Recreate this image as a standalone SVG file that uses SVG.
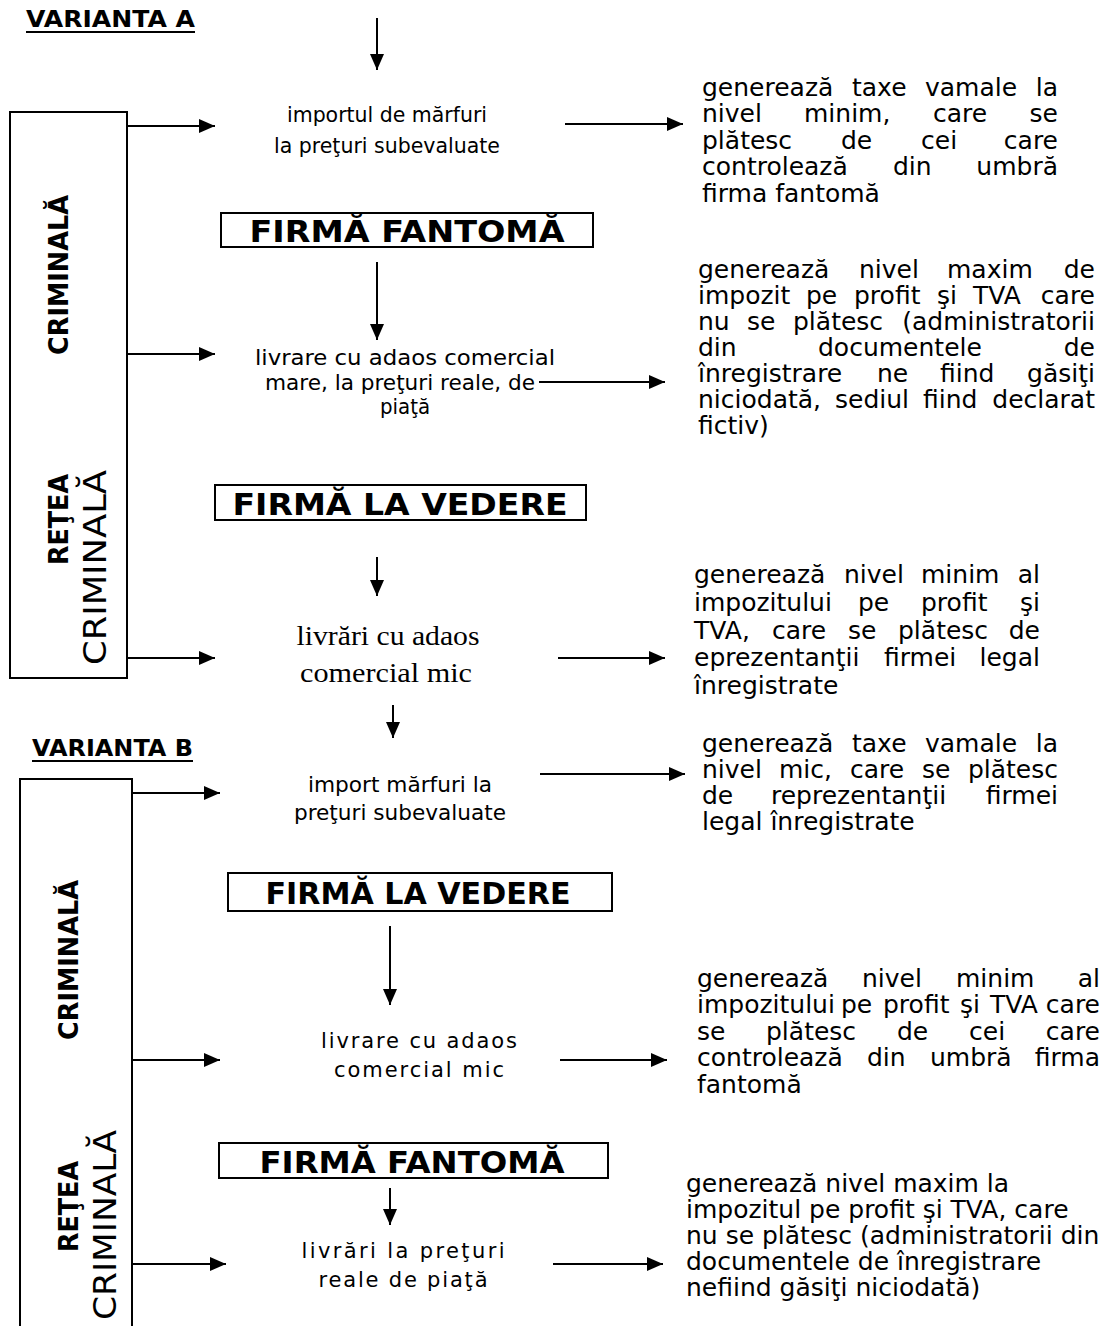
<svg xmlns="http://www.w3.org/2000/svg" width="1115" height="1326" viewBox="0 0 1115 1326">
<style>
.t{font-family:"DejaVu Sans",Verdana,sans-serif;font-size:25px;fill:#000}
.c{font-family:"DejaVu Sans Condensed","DejaVu Sans",Tahoma,sans-serif;font-size:22px;fill:#000;text-anchor:middle}
.w{font-family:"DejaVu Sans",Verdana,sans-serif;font-size:21px;fill:#000;text-anchor:middle}
.sf{font-family:"Liberation Serif","Times New Roman",serif;font-size:28px;fill:#000;text-anchor:middle}
.h{font-family:"DejaVu Sans",Verdana,sans-serif;font-weight:bold;font-size:31px;fill:#000;text-anchor:middle}
.v{font-family:"DejaVu Sans",Verdana,sans-serif;font-weight:bold;font-size:23px;fill:#000}
.rb{font-family:"DejaVu Sans",Verdana,sans-serif;font-weight:bold;font-size:26px;fill:#000}
.rn{font-family:"DejaVu Sans",Verdana,sans-serif;font-size:32px;fill:#000}
.e{text-anchor:end}
.box{fill:none;stroke:#000;stroke-width:2}
.ln{stroke:#000;stroke-width:2;fill:none}
</style>
<defs>
<marker id="ah" viewBox="0 0 16 14" refX="16" refY="7" markerWidth="16" markerHeight="14" markerUnits="userSpaceOnUse" orient="auto"><path d="M0,0 L16,7 L0,14 z" fill="#000"/></marker>
</defs>

<g id="titleA">
<text class="v" x="26" y="27" textLength="169" lengthAdjust="spacingAndGlyphs">VARIANTA A</text>
<line class="ln" x1="26" y1="32" x2="195" y2="32"/>
</g>
<g id="titleB">
<text class="v" x="32" y="756" textLength="161" lengthAdjust="spacingAndGlyphs">VARIANTA B</text>
<line class="ln" x1="32" y1="761" x2="193" y2="761"/>
</g>

<g id="netA">
<rect class="box" x="10" y="112" width="117" height="566"/>
<text class="rb" transform="translate(68,565) rotate(-90)" textLength="91" lengthAdjust="spacingAndGlyphs">REŢEA</text>
<text class="rb" transform="translate(68,355) rotate(-90)" textLength="160" lengthAdjust="spacingAndGlyphs">CRIMINALĂ</text>
<text class="rn" transform="translate(106,665) rotate(-90)" textLength="195" lengthAdjust="spacingAndGlyphs">CRIMINALĂ</text>
</g>
<g id="netB">
<path class="box" d="M20,1330 V779 H132 V1330"/>
<text class="rb" transform="translate(78,1252) rotate(-90)" textLength="91" lengthAdjust="spacingAndGlyphs">REŢEA</text>
<text class="rb" transform="translate(78,1040) rotate(-90)" textLength="160" lengthAdjust="spacingAndGlyphs">CRIMINALĂ</text>
<text class="rn" transform="translate(116,1320) rotate(-90)" textLength="190" lengthAdjust="spacingAndGlyphs">CRIMINALĂ</text>
</g>

<g id="a1">
<text class="c" x="387" y="122" textLength="200" lengthAdjust="spacingAndGlyphs">importul de mărfuri</text>
<text class="c" x="387" y="153" textLength="226" lengthAdjust="spacingAndGlyphs">la preţuri subevaluate</text>
</g>
<g id="fantomaA">
<rect class="box" x="221" y="213" width="372" height="34"/>
<text class="h" x="407" y="242" textLength="315" lengthAdjust="spacingAndGlyphs">FIRMĂ FANTOMĂ</text>
</g>
<g id="a2">
<text class="c" x="405" y="365" textLength="300" lengthAdjust="spacingAndGlyphs">livrare cu adaos comercial</text>
<text class="c" x="400" y="390" textLength="270" lengthAdjust="spacingAndGlyphs">mare, la preţuri reale, de</text>
<text class="c" x="405" y="414">piaţă</text>
</g>
<g id="vedereA">
<rect class="box" x="215" y="485" width="371" height="35"/>
<text class="h" x="400" y="515" textLength="335" lengthAdjust="spacingAndGlyphs">FIRMĂ LA VEDERE</text>
</g>
<g id="a3">
<text class="sf" x="388" y="645" textLength="183" lengthAdjust="spacingAndGlyphs">livrări cu adaos</text>
<text class="sf" x="386" y="682" textLength="172" lengthAdjust="spacingAndGlyphs">comercial mic</text>
</g>

<g id="r1">
<text class="t" x="702" y="96">generează</text><text class="t" x="852" y="96">taxe</text><text class="t" x="925" y="96">vamale</text><text class="t e" x="1058" y="96">la</text>
<text class="t" x="702" y="122">nivel</text><text class="t" x="804" y="122">minim,</text><text class="t" x="933" y="122">care</text><text class="t e" x="1058" y="122">se</text>
<text class="t" x="702" y="149">plătesc</text><text class="t" x="841" y="149">de</text><text class="t" x="921" y="149">cei</text><text class="t e" x="1058" y="149">care</text>
<text class="t" x="702" y="175">controlează</text><text class="t" x="893" y="175">din</text><text class="t e" x="1058" y="175">umbră</text>
<text class="t" x="702" y="202">firma fantomă</text>
</g>
<g id="r2">
<text class="t" x="698" y="278">generează</text><text class="t" x="859" y="278">nivel</text><text class="t" x="947" y="278">maxim</text><text class="t e" x="1095" y="278">de</text>
<text class="t" x="698" y="304">impozit</text><text class="t" x="806" y="304">pe</text><text class="t" x="854" y="304">profit</text><text class="t" x="937" y="304">şi</text><text class="t" x="973" y="304">TVA</text><text class="t e" x="1095" y="304">care</text>
<text class="t" x="698" y="330">nu</text><text class="t" x="747" y="330">se</text><text class="t" x="793" y="330">plătesc</text><text class="t e" x="1095" y="330">(administratorii</text>
<text class="t" x="698" y="356">din</text><text class="t" x="818" y="356">documentele</text><text class="t e" x="1095" y="356">de</text>
<text class="t" x="698" y="382">înregistrare</text><text class="t" x="877" y="382">ne</text><text class="t" x="940" y="382">fiind</text><text class="t e" x="1095" y="382">găsiţi</text>
<text class="t" x="698" y="408">niciodată,</text><text class="t" x="835" y="408">sediul</text><text class="t" x="923" y="408">fiind</text><text class="t e" x="1095" y="408">declarat</text>
<text class="t" x="698" y="434">fictiv)</text>
</g>
<g id="r3">
<text class="t" x="694" y="583">generează</text><text class="t" x="844" y="583">nivel</text><text class="t" x="921" y="583">minim</text><text class="t e" x="1040" y="583">al</text>
<text class="t" x="694" y="611">impozitului</text><text class="t" x="858" y="611">pe</text><text class="t" x="921" y="611">profit</text><text class="t e" x="1040" y="611">şi</text>
<text class="t" x="694" y="639">TVA,</text><text class="t" x="772" y="639">care</text><text class="t" x="848" y="639">se</text><text class="t" x="898" y="639">plătesc</text><text class="t e" x="1040" y="639">de</text>
<text class="t" x="694" y="666">eprezentanţii</text><text class="t" x="884" y="666">firmei</text><text class="t e" x="1040" y="666">legal</text>
<text class="t" x="694" y="694">înregistrate</text>
</g>
<g id="r4">
<text class="t" x="702" y="752">generează</text><text class="t" x="852" y="752">taxe</text><text class="t" x="925" y="752">vamale</text><text class="t e" x="1058" y="752">la</text>
<text class="t" x="702" y="778">nivel</text><text class="t" x="779" y="778">mic,</text><text class="t" x="850" y="778">care</text><text class="t" x="922" y="778">se</text><text class="t e" x="1058" y="778">plătesc</text>
<text class="t" x="702" y="804">de</text><text class="t" x="771" y="804">reprezentanţii</text><text class="t e" x="1058" y="804">firmei</text>
<text class="t" x="702" y="830">legal înregistrate</text>
</g>
<g id="b1">
<text class="c" x="400" y="792" textLength="184" lengthAdjust="spacingAndGlyphs">import mărfuri la</text>
<text class="c" x="400" y="820" textLength="212" lengthAdjust="spacingAndGlyphs">preţuri subevaluate</text>
</g>
<g id="vedereB">
<rect class="box" x="228" y="873" width="384" height="38"/>
<text class="h" x="418" y="904" textLength="305" lengthAdjust="spacingAndGlyphs">FIRMĂ LA VEDERE</text>
</g>
<g id="b2">
<text class="w" x="419" y="1048" textLength="196" lengthAdjust="spacing">livrare cu adaos</text>
<text class="w" x="419" y="1077" textLength="170" lengthAdjust="spacing">comercial mic</text>
</g>
<g id="r5">
<text class="t" x="697" y="987">generează</text><text class="t" x="862" y="987">nivel</text><text class="t" x="956" y="987">minim</text><text class="t e" x="1100" y="987">al</text>
<text class="t" x="697" y="1013">impozitului</text><text class="t" x="841" y="1013">pe</text><text class="t" x="883" y="1013">profit</text><text class="t" x="960" y="1013">şi</text><text class="t" x="990" y="1013">TVA</text><text class="t e" x="1100" y="1013">care</text>
<text class="t" x="697" y="1040">se</text><text class="t" x="766" y="1040">plătesc</text><text class="t" x="897" y="1040">de</text><text class="t" x="969" y="1040">cei</text><text class="t e" x="1100" y="1040">care</text>
<text class="t" x="697" y="1066">controlează</text><text class="t" x="867" y="1066">din</text><text class="t" x="930" y="1066">umbră</text><text class="t e" x="1100" y="1066">firma</text>
<text class="t" x="697" y="1093">fantomă</text>
</g>
<g id="fantomaB">
<rect class="box" x="219" y="1143" width="389" height="35"/>
<text class="h" x="412" y="1173" textLength="305" lengthAdjust="spacingAndGlyphs">FIRMĂ FANTOMĂ</text>
</g>
<g id="b3">
<text class="w" x="403" y="1258" textLength="203" lengthAdjust="spacing">livrări  la preţuri</text>
<text class="w" x="403" y="1287" textLength="169" lengthAdjust="spacing">reale de piaţă</text>
</g>
<g id="r6">
<text class="t" x="686" y="1192">generează nivel maxim la</text>
<text class="t" x="686" y="1218">impozitul pe profit şi TVA, care</text>
<text class="t" x="686" y="1244">nu se plătesc (administratorii din</text>
<text class="t" x="686" y="1270">documentele de înregistrare</text>
<text class="t" x="686" y="1296">nefiind găsiţi niciodată)</text>
</g>

<g id="connectors">
<line class="ln" x1="377" y1="18" x2="377" y2="70" marker-end="url(#ah)"/>
<line class="ln" x1="127" y1="126" x2="215" y2="126" marker-end="url(#ah)"/>
<line class="ln" x1="565" y1="124" x2="683" y2="124" marker-end="url(#ah)"/>
<line class="ln" x1="377" y1="262" x2="377" y2="340" marker-end="url(#ah)"/>
<line class="ln" x1="127" y1="354" x2="215" y2="354" marker-end="url(#ah)"/>
<line class="ln" x1="539" y1="382" x2="665" y2="382" marker-end="url(#ah)"/>
<line class="ln" x1="377" y1="557" x2="377" y2="596" marker-end="url(#ah)"/>
<line class="ln" x1="127" y1="658" x2="215" y2="658" marker-end="url(#ah)"/>
<line class="ln" x1="558" y1="658" x2="665" y2="658" marker-end="url(#ah)"/>
<line class="ln" x1="393" y1="705" x2="393" y2="738" marker-end="url(#ah)"/>
<line class="ln" x1="132" y1="793" x2="220" y2="793" marker-end="url(#ah)"/>
<line class="ln" x1="540" y1="774" x2="685" y2="774" marker-end="url(#ah)"/>
<line class="ln" x1="390" y1="926" x2="390" y2="1005" marker-end="url(#ah)"/>
<line class="ln" x1="132" y1="1060" x2="220" y2="1060" marker-end="url(#ah)"/>
<line class="ln" x1="560" y1="1060" x2="667" y2="1060" marker-end="url(#ah)"/>
<line class="ln" x1="390" y1="1188" x2="390" y2="1225" marker-end="url(#ah)"/>
<line class="ln" x1="132" y1="1264" x2="226" y2="1264" marker-end="url(#ah)"/>
<line class="ln" x1="553" y1="1264" x2="663" y2="1264" marker-end="url(#ah)"/>
</g>
</svg>
